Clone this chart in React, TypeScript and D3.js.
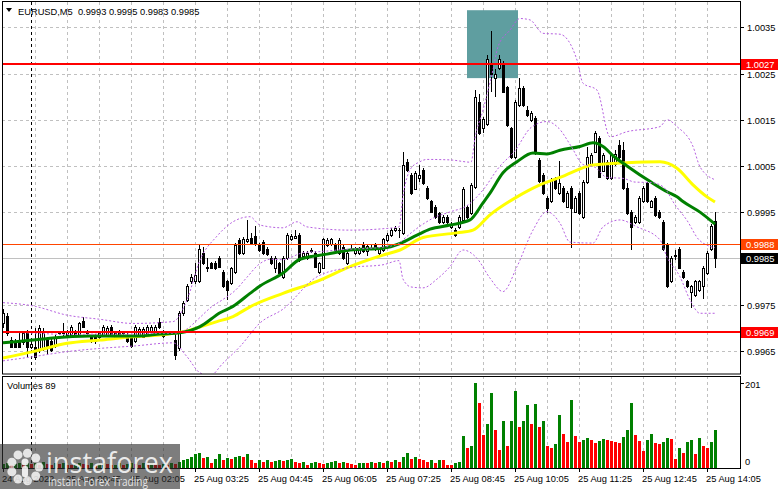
import React from "react";
import * as d3 from "d3";

// EURUSD M5, bars from 24 Aug 23:25 to 25 Aug 14:15 (179 bars)
const opens = [
  0.99709,0.99726,0.99673,0.99670,0.99673,0.99668,0.99690,0.99659,0.99659,0.99652,
  0.99655,0.99673,0.99670,0.99660,0.99688,0.99688,0.99685,0.99684,0.99691,0.99684,
  0.99715,0.99690,0.99680,0.99680,0.99680,0.99685,0.99685,0.99702,0.99680,0.99690,
  0.99688,0.99684,0.99680,0.99670,0.99685,0.99680,0.99682,0.99690,0.99690,0.99712,
  0.99691,0.99687,0.99688,0.99673,0.99655,0.99731,0.99760,0.99800,0.99800,0.99800,
  0.99861,0.99832,0.99839,0.99839,0.99850,0.99821,0.99800,0.99796,0.99821,0.99890,
  0.99861,0.99888,0.99893,0.99898,0.99879,0.99886,0.99870,0.99850,0.99828,0.99839,
  0.99810,0.99850,0.99891,0.99895,0.99901,0.99855,0.99850,0.99865,0.99861,0.99821,
  0.99830,0.99879,0.99881,0.99879,0.99862,0.99874,0.99839,0.99870,0.99861,0.99862,
  0.99879,0.99865,0.99872,0.99879,0.99861,0.99868,0.99890,0.99901,0.99911,0.99911,
  0.99904,1.00059,1.00030,1.00001,1.00023,1.00041,1.00002,0.99973,0.99962,0.99947,
  0.99929,0.99940,0.99918,0.99911,0.99918,0.99933,0.99962,0.99947,1.00005,1.00189,
  1.00131,1.00141,1.00272,1.00240,1.00261,1.00272,1.00220,1.00131,1.00070,1.00182,
  1.00218,1.00171,1.00150,1.00153,1.00063,1.00030,0.99980,0.99973,1.00023,0.99991,
  1.00002,0.99962,1.00002,0.99951,0.99991,0.99940,1.00015,1.00054,1.00081,1.00110,
  1.00040,1.00059,1.00023,1.00055,1.00095,1.00085,1.00002,0.99951,0.99929,0.99929,
  0.99973,1.00012,0.99962,0.99980,0.99951,0.99929,0.99879,0.99800,0.99856,0.99870,
  0.99821,0.99800,0.99778,0.99771,0.99782,0.99789,0.99818,0.99870,0.99930,
];
const highs = [
  0.99740,0.99732,0.99680,0.99676,0.99690,0.99692,0.99695,0.99670,0.99700,0.99705,
  0.99700,0.99680,0.99675,0.99685,0.99692,0.99710,0.99695,0.99706,0.99695,0.99712,
  0.99722,0.99694,0.99685,0.99686,0.99691,0.99706,0.99703,0.99706,0.99692,0.99694,
  0.99692,0.99688,0.99684,0.99706,0.99701,0.99702,0.99705,0.99706,0.99706,0.99720,
  0.99695,0.99692,0.99692,0.99686,0.99736,0.99758,0.99794,0.99815,0.99839,0.99878,
  0.99875,0.99850,0.99843,0.99845,0.99856,0.99825,0.99804,0.99832,0.99884,0.99895,
  0.99896,0.99933,0.99905,0.99920,0.99883,0.99890,0.99874,0.99854,0.99854,0.99843,
  0.99854,0.99905,0.99903,0.99911,0.99905,0.99865,0.99865,0.99872,0.99865,0.99843,
  0.99895,0.99894,0.99895,0.99883,0.99894,0.99878,0.99866,0.99878,0.99874,0.99874,
  0.99886,0.99881,0.99880,0.99883,0.99874,0.99895,0.99905,0.99915,0.99920,0.99916,
  1.00081,1.00065,1.00034,1.00038,1.00052,1.00045,1.00006,0.99977,0.99966,0.99951,
  0.99944,0.99944,0.99929,0.99915,0.99944,1.00005,0.99966,1.00013,1.00215,1.00205,
  1.00156,1.00290,1.00341,1.00260,1.00290,1.00276,1.00224,1.00135,1.00193,1.00240,
  1.00222,1.00180,1.00168,1.00157,1.00067,1.00034,0.99984,1.00024,1.00027,1.00060,
  1.00006,0.99995,1.00006,0.99984,0.99995,1.00019,1.00090,1.00078,1.00125,1.00114,
  1.00078,1.00063,1.00078,1.00085,1.00106,1.00102,1.00012,0.99955,0.99944,0.99984,
  1.00006,1.00016,0.99977,0.99984,0.99955,0.99933,0.99883,0.99854,0.99868,0.99874,
  0.99825,0.99804,0.99793,0.99804,0.99804,0.99834,0.99865,0.99924,0.99950,
];
const lows = [
  0.99700,0.99682,0.99655,0.99655,0.99656,0.99663,0.99637,0.99653,0.99630,0.99645,
  0.99650,0.99640,0.99648,0.99656,0.99684,0.99682,0.99682,0.99680,0.99680,0.99682,
  0.99700,0.99685,0.99666,0.99665,0.99676,0.99682,0.99680,0.99681,0.99676,0.99676,
  0.99684,0.99666,0.99656,0.99666,0.99682,0.99677,0.99679,0.99687,0.99687,0.99698,
  0.99678,0.99684,0.99684,0.99630,0.99650,0.99726,0.99755,0.99795,0.99795,0.99796,
  0.99835,0.99821,0.99826,0.99824,0.99828,0.99785,0.99760,0.99792,0.99817,0.99857,
  0.99857,0.99884,0.99878,0.99876,0.99864,0.99857,0.99856,0.99835,0.99818,0.99814,
  0.99806,0.99846,0.99887,0.99891,0.99843,0.99851,0.99846,0.99861,0.99828,0.99817,
  0.99826,0.99875,0.99877,0.99864,0.99858,0.99846,0.99835,0.99866,0.99857,0.99858,
  0.99861,0.99854,0.99868,0.99866,0.99857,0.99864,0.99886,0.99897,0.99907,0.99895,
  0.99900,1.00037,0.99987,0.99997,1.00015,1.00008,0.99976,0.99947,0.99936,0.99925,
  0.99925,0.99925,0.99914,0.99897,0.99914,0.99929,0.99936,0.99943,1.00001,1.00117,
  1.00121,1.00137,1.00211,1.00200,1.00257,1.00207,1.00135,1.00066,1.00066,1.00178,
  1.00178,1.00156,1.00146,1.00073,1.00014,0.99987,0.99949,0.99969,0.99998,0.99987,
  0.99969,0.99958,0.99872,0.99947,0.99943,0.99936,1.00011,1.00050,1.00077,1.00023,
  1.00036,1.00019,1.00019,1.00050,1.00066,0.99998,0.99943,0.99868,0.99925,0.99925,
  0.99969,0.99969,0.99958,0.99940,0.99936,0.99866,0.99785,0.99796,0.99846,0.99826,
  0.99806,0.99785,0.99742,0.99767,0.99778,0.99761,0.99814,0.99866,0.99830,
];
const closes = [
  0.99731,0.99688,0.99659,0.99659,0.99659,0.99688,0.99659,0.99665,0.99637,0.99700,
  0.99692,0.99659,0.99652,0.99680,0.99689,0.99690,0.99690,0.99702,0.99684,0.99709,
  0.99702,0.99688,0.99670,0.99670,0.99688,0.99702,0.99700,0.99685,0.99688,0.99680,
  0.99689,0.99670,0.99660,0.99702,0.99698,0.99698,0.99702,0.99702,0.99702,0.99701,
  0.99682,0.99689,0.99687,0.99641,0.99731,0.99753,0.99789,0.99810,0.99814,0.99870,
  0.99839,0.99830,0.99830,0.99828,0.99832,0.99789,0.99782,0.99828,0.99879,0.99861,
  0.99891,0.99891,0.99882,0.99880,0.99868,0.99861,0.99860,0.99839,0.99850,0.99818,
  0.99850,0.99901,0.99899,0.99898,0.99847,0.99861,0.99861,0.99868,0.99832,0.99839,
  0.99891,0.99890,0.99891,0.99868,0.99890,0.99850,0.99862,0.99871,0.99870,0.99870,
  0.99865,0.99877,0.99872,0.99870,0.99870,0.99891,0.99901,0.99911,0.99916,0.99912,
  1.00052,1.00041,0.99991,1.00034,1.00030,1.00012,0.99980,0.99951,0.99940,0.99929,
  0.99940,0.99929,0.99925,0.99901,0.99940,1.00001,0.99940,1.00009,1.00200,1.00121,
  1.00152,1.00281,1.00250,1.00250,1.00281,1.00211,1.00139,1.00070,1.00189,1.00218,
  1.00182,1.00160,1.00164,1.00077,1.00018,0.99991,0.99958,1.00020,1.00002,1.00012,
  0.99973,0.99991,0.99958,0.99980,0.99947,1.00015,1.00070,1.00074,1.00121,1.00027,
  1.00074,1.00023,1.00074,1.00075,1.00070,1.00002,0.99947,0.99918,0.99940,0.99980,
  1.00002,0.99973,0.99973,0.99944,0.99940,0.99870,0.99789,0.99850,0.99857,0.99830,
  0.99810,0.99789,0.99789,0.99800,0.99800,0.99830,0.99861,0.99920,0.99850,
];
const volumes = [
  9,12,8,10,11,7,13,9,11,8,14,10,7,11,9,12,8,6,10,12,9,7,11,8,10,13,9,6,8,11,7,9,12,10,8,11,9,13,10,7,9,8,11,
  9,15,18,22,25,33,35,24,26,12,22,34,19,24,22,26,29,27,32,
  20,11,18,15,18,15,17,18,17,20,21,15,13,15,8,11,15,11,9,12,14,16,11,15,11,9,6,12,13,13,14,12,15,11,16,15,18,14,
  27,36,22,25,22,20,14,18,11,20,20,8,8,12,15,75,47,51,201,154,77,103,178,91,42,
  111,51,110,182,97,111,149,103,151,97,112,52,47,56,125,80,62,161,75,62,66,72,67,59,64,69,66,63,62,59,
  73,89,154,77,64,40,66,81,59,56,61,72,68,21,47,36,61,66,32,72,52,47,61,89,
];

// indicator lines: [bar index, price]
const maFast: [number, number][] = [
  [0,0.99667],[7.5,0.99673],[11.75,0.99677],[21.75,0.99682],[34.25,0.99682],[39.25,0.99686],
  [44.25,0.99689],[49.25,0.99702],[54.25,0.99732],[57.5,0.99746],[61.75,0.99774],[64.25,0.9979],
  [70,0.99818],[74.25,0.99848],[81,0.99859],[86.75,0.99868],[95,0.99872],[99.25,0.99882],
  [103.5,0.999],[106.75,0.99913],[111.75,0.99922],[116.75,0.99933],[120,0.9997],[121.75,0.99991],
  [125,1.00035],[128.5,1.00059],[132.5,1.00078],[136,1.00076],[139.25,1.00084],[144.25,1.00092],
  [147.5,1.001],[150,1.00092],[152.5,1.00072],[156,1.0005],[162,1.00015],[166,0.99994],
  [168.5,0.99983],[170,0.99973],[174.25,0.9995],[178,0.99924],
];
const maSlow: [number, number][] = [
  [0,0.99634],[7.5,0.99648],[16,0.99666],[24.25,0.99673],[32.5,0.9968],[39.25,0.99684],
  [45,0.99691],[53.5,0.99713],[57.5,0.99724],[61.75,0.99745],[70,0.99774],[78.5,0.998],
  [86.75,0.99832],[95,0.99857],[99.25,0.99868],[105,0.99895],[113.5,0.99905],[117.5,0.99911],
  [121.75,0.99944],[128.5,0.99983],[134.25,1.00009],[139.25,1.00025],[147.5,1.00052],[156,1.00057],
  [164.25,1.00059],[168.5,1.00045],[172.5,1.00009],[176,0.99983],[178,0.99972],
];
const bbUpper: [number, number][] = [
  [0,0.99754],[7.5,0.99747],[16,0.99727],[24.25,0.99718],[32.5,0.99709],[42.5,0.99713],
  [46,0.9976],[49.25,0.99846],[53.5,0.99898],[57.5,0.99929],[61.75,0.9994],[64.25,0.99922],
  [70,0.99916],[73.5,0.99929],[76,0.99918],[86.75,0.99911],[95,0.99914],[99,0.99918],
  [100,0.99985],[101,1.00025],[102,1.00045],[104,1.00058],[106,1.00064],[111.75,1.00063],
  [117,1.00058],[118,1.0011],[120,1.00171],[122.5,1.00258],[123.75,1.00308],[126.75,1.00344],
  [129.25,1.00369],[131.75,1.00366],[135,1.00337],[139.25,1.00335],[143.5,1.00279],[145,1.00229],
  [148.5,1.00214],[151.75,1.00113],[156,1.00124],[164.25,1.00135],[166,1.0015],[168.5,1.00135],
  [172.5,1.00092],[174.25,1.00048],[178,1.0002],
];
const bbMiddle: [number, number][] = [
  [0,0.9969],[8,0.99688],[16,0.99685],[24,0.99686],[32,0.99686],[40,0.99688],[43,0.99688],
  [46,0.99697],[49,0.9972],[52,0.99744],[55,0.99761],[58,0.9978],[61,0.99809],[64,0.99837],
  [67,0.99848],[70,0.99847],[75,0.99862],[80,0.99865],[85,0.99869],[90,0.99871],[95,0.99874],
  [99,0.99882],[100,0.9989],[104,0.99918],[108,0.99939],[112,0.99951],[116,0.99964],[120,0.99998],
  [124,1.00047],[128,1.00083],[132,1.00133],[136,1.00146],[139,1.00131],[142,1.00093],[145,1.00053],
  [148,1.00047],[151,1.00025],[155,1.00023],[158,1.00015],[162,1.00014],[165,1.00005],[168,0.99966],
  [171,0.99932],[174,0.9989],[178,0.99873],
];
const bbLower: [number, number][] = [
  [0,0.99628],[7.5,0.99637],[16,0.99648],[24.25,0.99655],[32.5,0.9966],[42.5,0.99667],
  [46,0.99637],[49.25,0.99602],[51.75,0.99596],[55,0.99623],[59.25,0.99659],[64.25,0.9971],
  [70,0.9974],[78.5,0.9981],[86.75,0.9983],[95,0.99836],[99,0.99845],[100,0.99805],
  [102,0.99788],[105,0.99786],[108.5,0.99805],[111.75,0.99832],[115,0.99868],[118.5,0.9985],
  [121.75,0.99807],[125,0.99778],[128.5,0.99832],[132.5,0.99911],[136,0.99951],[139.25,0.99926],
  [141.75,0.99885],[147.5,0.99883],[150,0.99918],[154.25,0.99933],[158.5,0.99918],[164.25,0.9989],
  [166,0.99853],[169.25,0.9981],[171.75,0.9976],[174.25,0.99731],[178,0.99731],
];

const priceTicks = [0.9965, 0.9975, 0.9985, 0.9995, 1.0005, 1.0015, 1.0025, 1.0035];
const timeTickBars = [0, 16, 32, 48, 64, 80, 96, 112, 128, 144, 160, 176];
const timeTickLabels = [
  "24 Aug 2022", "25 Aug 00:45", "25 Aug 02:05", "25 Aug 03:25", "25 Aug 04:45", "25 Aug 06:05",
  "25 Aug 07:25", "25 Aug 08:45", "25 Aug 10:05", "25 Aug 11:25", "25 Aug 12:45", "25 Aug 14:05",
];
const daySeparatorBar = 7;
const redLevels = [1.0027, 0.9969];
const orangeLevel = 0.9988;
const bidLevel = 0.9985;
const highlightBox = { bar1: 116, bar2: 128.75, price1: 1.00387, price2: 1.0024 };
const volumeMax = 201;
const title = "EURUSD,M5  0.9993 0.9995 0.9983 0.9985";

export default function App() {
  const W = 781, H = 489;
  const left = 2, right = 740, mainTop = 2, mainBottom = 374, volTop = 376, volBottom = 468;
  const n = closes.length;
  const x = d3.scaleLinear().domain([0, n - 1]).range([3, 715]);
  const y = d3.scaleLinear().domain([0.9965, 1.0035]).range([350.7, 27.3]);
  const yv = d3.scaleLinear().domain([0, volumeMax]).range([volBottom, 383]);
  const font = "'Liberation Sans', Arial, sans-serif";
  const fs = 9.3;

  const lineGen = d3
    .line<[number, number]>()
    .x((d) => x(d[0]))
    .y((d) => y(d[1]))
    .curve(d3.curveMonotoneX);

  const gridBars = d3.range(8, n, 8);

  const candles = d3.range(n).map((i) => {
    const cx = Math.round(x(i));
    const o = opens[i], c = closes[i];
    const yHi = Math.round(y(highs[i]));
    const yLo = Math.round(y(lows[i]));
    const top = Math.round(y(Math.max(o, c)));
    const bot = Math.round(y(Math.min(o, c)));
    const bull = c >= o;
    return (
      <g key={i}>
        <rect x={cx} y={yHi} width={1} height={Math.max(1, yLo - yHi)} fill="#000" />
        <rect x={cx - 1} y={top} width={3} height={bot - top + 1} fill="#000" />
        {bull && bot - top >= 2 ? (
          <rect x={cx} y={top + 1} width={1} height={bot - top - 1} fill="#fff" />
        ) : null}
      </g>
    );
  });

  const volBars = volumes.map((v, i) => {
    const cx = Math.round(x(i));
    const up = i === 0 || v > volumes[i - 1];
    const top = Math.round(yv(v));
    return (
      <rect key={i} x={cx - 1} y={top} width={3} height={volBottom - top} fill={up ? "#008000" : "#ff0000"} />
    );
  });

  const labelBox = (p: number, bg: string, key: string) => {
    const cy = y(p);
    return (
      <g key={key}>
        <rect x={741} y={Math.round(cy) - 5} width={37} height={11} fill={bg} />
        <text x={746} y={Math.round(cy) + 4} fontSize={fs} fill="#fff" fontFamily={font}>
          {p.toFixed(4)}
        </text>
      </g>
    );
  };

  const bbColor = "#b660e0";
  const logoDots = d3.range(9).map((k) => {
    const a = (k / 9) * Math.PI * 2;
    return <circle key={k} cx={25 + 14 * Math.cos(a)} cy={467 + 14 * Math.sin(a)} r={4.5} fill="rgba(255,255,255,0.8)" />;
  });

  return (
    <div style={{ position: "absolute", left: 0, top: 0 }}>
      <svg width={W} height={H} style={{ display: "block", background: "#fff" }}>
        <defs>
          <clipPath id="mainClip">
            <rect x={left} y={mainTop} width={right - left} height={mainBottom - mainTop} />
          </clipPath>
        </defs>
        <rect x={0} y={0} width={W} height={H} fill="#fff" />

        {/* grid */}
        <g stroke="#c0c0c0" strokeDasharray="3,3" strokeWidth={1}>
          {priceTicks.map((p) => (
            <line key={p} x1={left} x2={right} y1={Math.round(y(p)) + 0.5} y2={Math.round(y(p)) + 0.5} />
          ))}
          {gridBars.map((b) => (
            <g key={b}>
              <line x1={Math.round(x(b)) + 0.5} x2={Math.round(x(b)) + 0.5} y1={mainTop} y2={mainBottom} />
              <line x1={Math.round(x(b)) + 0.5} x2={Math.round(x(b)) + 0.5} y1={volTop} y2={volBottom} />
            </g>
          ))}
        </g>

        <g clipPath="url(#mainClip)">
          {/* highlight rectangle */}
          <rect
            x={x(highlightBox.bar1)}
            y={y(highlightBox.price1)}
            width={x(highlightBox.bar2) - x(highlightBox.bar1)}
            height={y(highlightBox.price2) - y(highlightBox.price1)}
            fill="#5f9ea0"
          />
          {/* day separator */}
          <line
            x1={Math.round(x(daySeparatorBar)) + 0.5}
            x2={Math.round(x(daySeparatorBar)) + 0.5}
            y1={mainTop}
            y2={mainBottom}
            stroke="#000"
            strokeDasharray="3,3"
          />
          <line x1={left} x2={right} y1={Math.round(y(bidLevel)) + 0.5} y2={Math.round(y(bidLevel)) + 0.5} stroke="#c0c0c0" />
          {candles}
          <path d={lineGen(maSlow) || ""} fill="none" stroke="#ffff00" strokeWidth={3} />
          <path d={lineGen(maFast) || ""} fill="none" stroke="#008000" strokeWidth={3} />
          {[bbUpper, bbMiddle, bbLower].map((pts, k) => (
            <path key={k} d={lineGen(pts) || ""} fill="none" stroke={bbColor} strokeWidth={1} strokeDasharray="2,2" />
          ))}
          <line x1={left} x2={right} y1={Math.round(y(orangeLevel)) + 0.5} y2={Math.round(y(orangeLevel)) + 0.5} stroke="#ff4500" />
          {redLevels.map((p) => (
            <line key={p} x1={left} x2={right} y1={Math.round(y(p))} y2={Math.round(y(p))} stroke="#ff0000" strokeWidth={2} />
          ))}
        </g>

        {/* volumes */}
        <line
          x1={Math.round(x(daySeparatorBar)) + 0.5}
          x2={Math.round(x(daySeparatorBar)) + 0.5}
          y1={volTop}
          y2={volBottom}
          stroke="#000"
          strokeDasharray="3,3"
        />
        {volBars}

        {/* panel borders */}
        <g fill="none" stroke="#000" strokeWidth={1}>
          <rect x={left + 0.5} y={mainTop - 0.5} width={right - left} height={mainBottom - mainTop + 0.5} />
          <rect x={left + 0.5} y={volTop + 0.5} width={right - left} height={volBottom - volTop} />
        </g>

        {/* price axis */}
        {priceTicks.map((p) => (
          <g key={p}>
            <line x1={right} x2={right + 4} y1={Math.round(y(p)) + 0.5} y2={Math.round(y(p)) + 0.5} stroke="#000" />
            <text x={747} y={Math.round(y(p)) + 4} fontSize={fs} fontFamily={font} fill="#000">
              {p.toFixed(4)}
            </text>
          </g>
        ))}
        {labelBox(redLevels[0], "#ff0000", "r1")}
        {labelBox(orangeLevel, "#ff4500", "o")}
        {labelBox(bidLevel, "#000000", "b")}
        {labelBox(redLevels[1], "#ff0000", "r2")}

        {/* volume axis */}
        <line x1={right} x2={right + 4} y1={yv(volumeMax) + 0.5} y2={yv(volumeMax) + 0.5} stroke="#000" />
        <text x={745} y={yv(volumeMax) + 5} fontSize={fs} fontFamily={font} fill="#000">{volumeMax}</text>
        <text x={745} y={volBottom - 3} fontSize={fs} fontFamily={font} fill="#000">0</text>
        <text x={7} y={389} fontSize={fs} fontFamily={font} fill="#000">{"Volumes " + volumes[n - 1]}</text>

        {/* time axis */}
        {timeTickBars.map((b, k) => (
          <g key={b}>
            <line x1={Math.round(x(b)) + 0.5} x2={Math.round(x(b)) + 0.5} y1={volBottom} y2={volBottom + 4} stroke="#000" />
            <text x={Math.round(x(b)) - 1} y={482} fontSize={fs} fontFamily={font} fill="#000">
              {timeTickLabels[k]}
            </text>
          </g>
        ))}

        {/* title */}
        <path d="M6,8 L12,8 L9,12 Z" fill="#000" />
        <text x={18} y={15} fontSize={fs} fontFamily={font} fill="#000" style={{ whiteSpace: "pre" }}>
          {title}
        </text>

        {/* watermark */}
        <g>
          <rect x={0} y={444} width={180} height={45} fill="rgba(45,45,45,0.62)" />
          {logoDots}
          <circle cx={25} cy={462} r={3.5} fill="rgba(255,255,255,0.85)" />
          <rect x={22} y={466} width={6} height={11} rx={2} fill="rgba(255,255,255,0.85)" />
          <text x={46} y={473} fontSize={29} fontFamily="'Open Sans', sans-serif" fill="rgba(255,255,255,0.85)" textLength={127} lengthAdjust="spacingAndGlyphs">
            instaforex
          </text>
          <text x={48} y={486} fontSize={12} fontFamily="'Open Sans', sans-serif" fill="rgba(255,255,255,0.8)" textLength={100} lengthAdjust="spacingAndGlyphs">
            Instant Forex Trading
          </text>
        </g>
      </svg>
    </div>
  );
}
